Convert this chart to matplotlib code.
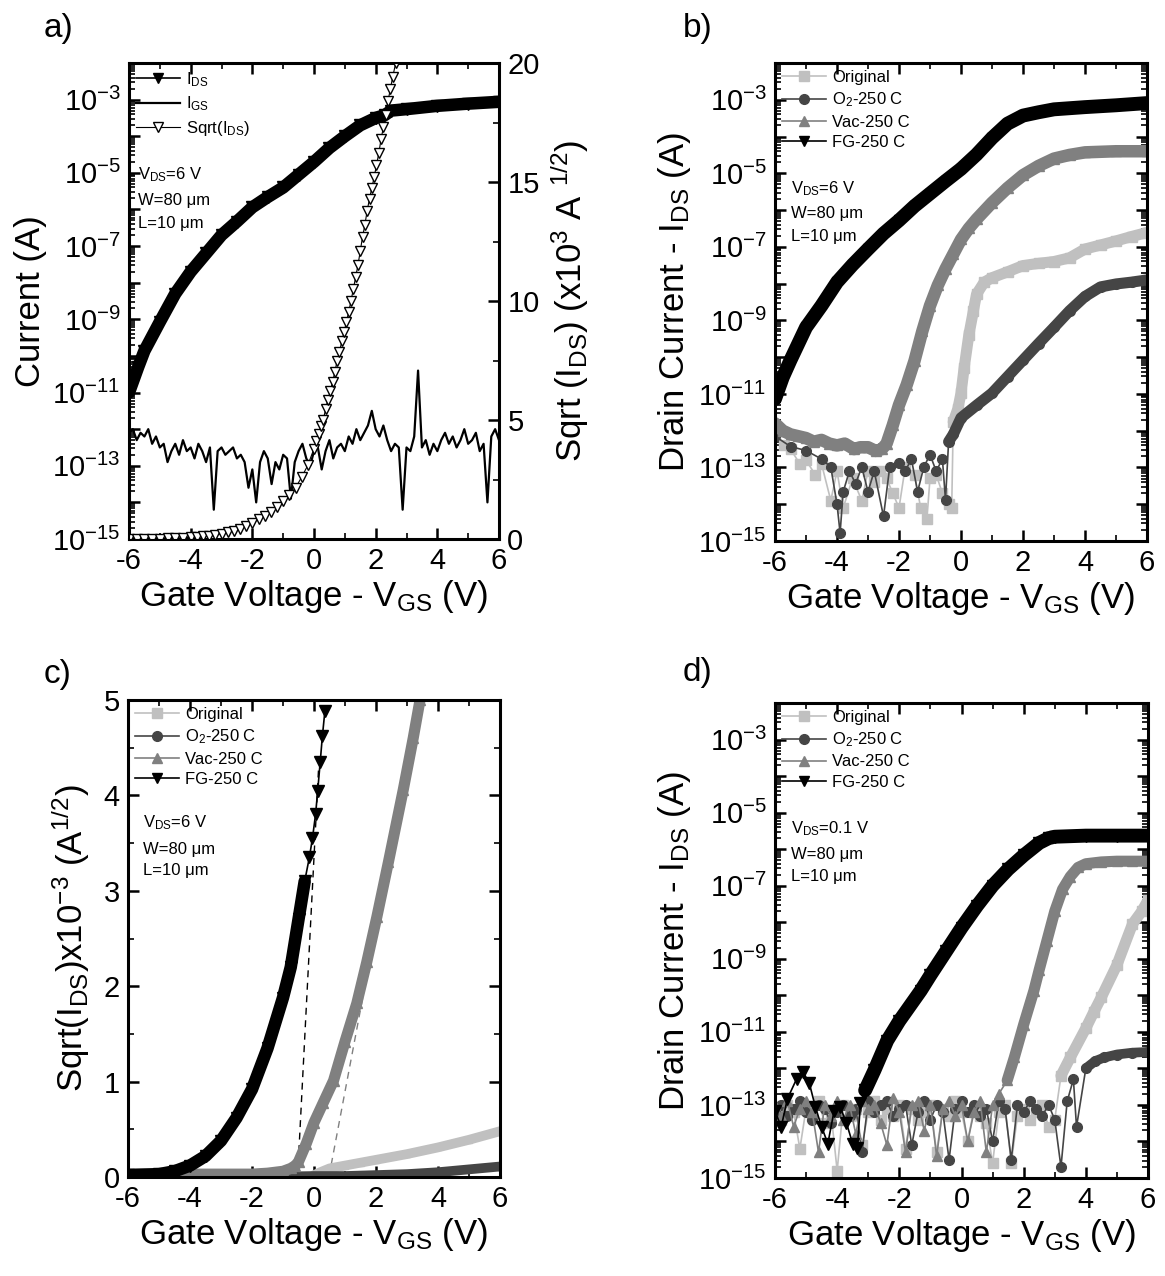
import numpy as np
import matplotlib
matplotlib.use('Agg')
import matplotlib.pyplot as plt
from matplotlib.lines import Line2D
from matplotlib.ticker import FixedLocator, FuncFormatter, LogLocator, NullFormatter, MultipleLocator

plt.rcParams['font.family'] = ['Liberation Sans', 'DejaVu Sans']
plt.rcParams['mathtext.fontset'] = 'custom'
plt.rcParams['mathtext.rm'] = 'Liberation Sans'
plt.rcParams['mathtext.it'] = 'Liberation Sans:italic'
plt.rcParams['mathtext.bf'] = 'Liberation Sans:bold'
plt.rcParams['axes.unicode_minus'] = False

# ---------------- panel a (log10 of current, sqrt in x10^3) ----------------
ids_a_x = [-6, -5.7, -5.5, -5, -4.5, -4, -3.5, -3, -2.5, -2, -1.5, -1, -0.5, 0, 0.5, 1, 1.5, 2, 2.3, 2.5, 3, 4, 5, 6]
ids_a_log = [-11.0, -10.3, -9.86, -9.07, -8.3, -7.7, -7.2, -6.7, -6.33, -5.94, -5.66, -5.4, -5.05, -4.7,
             -4.32, -4.0, -3.7, -3.5, -3.42, -3.3, -3.26, -3.17, -3.11, -3.06]

igs_a_log = [-12.1, -12.0, -12.3, -12.1, -12.2, -12.0, -12.4, -12.2, -12.5,
             -12.4, -12.9, -12.6, -12.4, -12.7, -12.3, -12.6, -12.5,
             -12.8, -12.4, -12.6, -12.9, -12.5, -14.2, -12.6, -12.5,
             -12.7, -12.6, -12.5, -12.8, -12.7, -12.9, -13.6, -13.1,
             -14.0, -12.9, -12.6, -12.8, -13.5, -12.9, -13.1, -12.7,
             -12.8, -13.9, -12.9, -12.6, -12.4, -12.8, -13.0, -12.6,
             -12.5, -13.1, -12.6, -12.3, -12.8, -12.5, -12.4, -12.6,
             -12.2, -12.4, -12.0, -12.3, -12.1, -11.9, -11.5, -12.0,
             -12.2, -11.9, -12.3, -12.6, -12.4, -12.5, -14.2, -12.5,
             -12.6, -12.2, -10.4, -12.5, -12.3, -12.7, -12.4, -12.6,
             -12.3, -12.1, -12.4, -12.2, -12.5, -12.3, -12.0, -12.4,
             -12.3, -12.1, -12.6, -12.4, -14.0, -12.2, -12.0, -12.3]
igs_a_x = np.linspace(-6, 6, len(igs_a_log))

sqrt_a_x = [-6, -5.75, -5.5, -5.25, -5, -4.75, -4.5, -4.25, -4, -3.8, -3.6, -3.4, -3.2, -3.0, -2.8, -2.6,
            -2.4, -2.2, -2.0, -1.8, -1.6, -1.4, -1.2, -1.0, -0.8, -0.6, -0.4, -0.2, 0, 0.075, 0.15, 0.225,
            0.3, 0.375, 0.45, 0.525, 0.6, 0.675, 0.75, 0.825, 0.9, 0.975, 1.05, 1.125, 1.2, 1.275, 1.35,
            1.425, 1.5, 1.575, 1.65, 1.725, 1.8, 1.875, 1.95, 2.025, 2.1, 2.175, 2.25, 2.325, 2.4, 2.475,
            2.55, 2.65]
sqrt_a_y = [0.0, 0.0, 0.01, 0.02, 0.02, 0.03, 0.04, 0.05, 0.07, 0.09, 0.11, 0.14, 0.18, 0.22, 0.28, 0.35,
            0.44, 0.55, 0.68, 0.82, 0.97, 1.15, 1.35, 1.6, 1.85, 2.15, 2.6, 3.1, 3.8, 4.1, 4.4, 4.75,
            5.0, 5.45, 5.85, 6.2, 6.6, 7.0, 7.5, 7.85, 8.3, 8.7, 9.1, 9.55, 10.0, 10.5, 11.0,
            11.5, 12.1, 12.7, 13.2, 13.8, 14.3, 14.75, 15.2, 15.7, 16.2, 16.8, 17.3, 17.8, 18.4, 18.9,
            19.4, 20.0]

# ---------------- panel b (log10 of I_DS, V_DS = 6 V) ----------------
fg_b_x = [-6, -5.75, -5.5, -5, -4.5, -4, -3.5, -3, -2.5, -2, -1.5, -1, -0.5, 0, 0.5, 1, 1.5, 2, 2.5, 3, 4, 5, 6]
fg_b_log = [-11.14, -10.55, -10.08, -9.19, -8.6, -7.96, -7.49, -7.06, -6.64, -6.28, -5.89, -5.55, -5.21, -4.88,
            -4.49, -4.04, -3.65, -3.43, -3.34, -3.26, -3.2, -3.15, -3.09]

vac_b_x = [-6, -5.75, -5.5, -5.25, -5, -4.75, -4.5, -4.25, -4, -3.75, -3.45, -3.25, -3, -2.75, -2.55, -2.4,
           -2.2, -2, -1.75, -1.5, -1.25, -1, -0.75, -0.5, -0.25, 0, 0.25, 0.5, 1, 1.5, 2, 2.5, 3, 3.5, 4, 5, 6]
vac_b_log = [-11.8, -12.0, -12.1, -12.15, -12.2, -12.3, -12.25, -12.35, -12.4, -12.35, -12.5, -12.45, -12.45,
             -12.55, -12.5, -12.35, -11.85, -11.3, -10.75, -10.1, -9.3, -8.6, -8.05, -7.6, -7.2, -6.8, -6.5,
             -6.25, -5.8, -5.4, -5.05, -4.8, -4.6, -4.5, -4.43, -4.4, -4.4]

orig_b_x = [-6, -5.7, -5.5, -5.2, -5, -4.7, -4.5, -4.2, -4, -3.8, -3.5, -3.2, -3, -2.8, -2.6, -2.4, -2.2, -2,
            -1.8, -1.5, -1.3, -1.1, -1, -0.8, -0.6, -0.4, -0.3, -0.25, -0.1, 0, 0.1, 0.25, 0.4, 0.5, 0.75, 1,
            1.5, 2, 2.5, 3, 3.5, 4, 4.5, 5, 5.5, 6]
orig_b_log = [-12.1, -12.4, -12.5, -12.9, -12.8, -13.2, -12.9, -13.9, -13.1, -14.1, -13.3, -13.9, -13.1, -13.4,
              -13.1, -13.3, -13.7, -14.1, -13.0, -13.2, -14.1, -14.4, -13.3, -13.2, -13.7, -14.0, -14.1, -11.76,
              -11.4, -10.98, -10.3, -9.41, -8.74, -8.29, -7.96, -7.84, -7.68, -7.51, -7.45, -7.4, -7.3, -7.06,
              -6.95, -6.84, -6.72, -6.61]

o2_b_x = [-6, -5.5, -5, -4.5, -4.2, -4, -3.9, -3.8, -3.6, -3.4, -3.2, -3, -2.8, -2.5, -2.3, -2, -1.8, -1.6,
          -1.4, -1.2, -1, -0.8, -0.6, -0.5, -0.4, -0.25, 0, 0.5, 1, 1.5, 2, 2.5, 3, 3.5, 4, 4.5, 5, 5.5, 6]
o2_b_log = [-12.15, -12.43, -12.54, -12.77, -12.99, -14.0, -14.78, -13.66, -13.1, -13.44, -12.99, -13.66, -13.1,
            -14.33, -12.99, -12.88, -13.1, -12.77, -13.66, -12.99, -12.65, -13.1, -12.77, -13.88, -12.3, -12.1,
            -11.65, -11.31, -10.98, -10.53, -10.08, -9.63, -9.19, -8.74, -8.35, -8.09, -8.01, -7.96, -7.9]

# ---------------- panel c (sqrt(I_DS) x10^-3) ----------------
fg_c_x = [-6, -5, -4.5, -4, -3.5, -3, -2.5, -2, -1.5, -1, -0.75, -0.5, -0.3, -0.15, -0.05, 0.05, 0.12,
          0.2, 0.27, 0.35]
fg_c_y = [0.02, 0.03, 0.06, 0.12, 0.22, 0.38, 0.62, 0.92, 1.35, 1.88, 2.2, 2.7, 3.1, 3.35, 3.55, 3.8, 4.05,
          4.35, 4.62, 4.88]
vac_c_x = [-6, -5, -4, -3, -2, -1.5, -1, -0.75, -0.6, -0.5, -0.25, 0, 0.3, 0.63, 1.0, 1.38, 1.7, 2.03, 2.4,
           2.88, 3.2, 3.42]
vac_c_y = [0.03, 0.03, 0.03, 0.03, 0.03, 0.04, 0.06, 0.09, 0.12, 0.16, 0.35, 0.57, 0.78, 1.01, 1.42, 1.82,
           2.25, 2.73, 3.3, 4.06, 4.6, 5.0]
orig_c_x = [-6, -4, -2, -1, 0, 0.2, 0.5, 1, 1.5, 2, 3, 4, 5, 6]
orig_c_y = [0.05, 0.04, 0.03, 0.02, 0.02, 0.05, 0.09, 0.12, 0.15, 0.18, 0.24, 0.31, 0.39, 0.48]
o2_c_x = [-6, -2, 0, 1, 2, 3, 4, 5, 6]
o2_c_y = [0.0, 0.0, 0.01, 0.01, 0.02, 0.03, 0.05, 0.08, 0.11]
fit_fg_x = [-0.53, 0.15]
fit_fg_y = [0.0, 4.3]
fit_vac_x = [0.48, 1.7]
fit_vac_y = [0.0, 2.1]

# ---------------- panel d (log10 of I_DS, V_DS = 0.1 V) ----------------
fg_d_x = [-6, -5.8, -5.6, -5.3, -5.1, -4.9, -4.7, -4.5, -4.3, -4.1, -3.9, -3.7, -3.5, -3.35, -3.25, -3.1,
          -2.8, -2.39, -2, -1.31, -1, -0.5, 0, 0.5, 1, 1.5, 2, 2.5, 2.8, 3, 4, 5, 6]
fg_d_log = [-13.17, -13.6, -12.83, -12.28, -12.1, -12.39, -13.06, -13.6, -14.06, -13.17, -13.06, -13.5, -14.06,
            -14.17, -12.94, -12.6, -12.05, -11.24, -10.7, -9.87, -9.45, -8.8, -8.15, -7.55, -7.0, -6.55, -6.17,
            -5.83, -5.7, -5.66, -5.63, -5.63, -5.63]

vac_d_noise_log = [-13.0, -13.3, -12.9, -13.6, -13.1, -12.9, -13.2, -14.3, -13.0, -13.3,
                   -12.9, -13.4, -13.0, -13.8, -12.9, -13.1, -13.0, -13.5, -14.1, -12.8,
                   -13.2, -14.3, -13.0, -12.9, -13.7, -13.0, -14.4, -13.1, -12.9, -13.3,
                   -13.0, -14.0, -13.2, -12.9, -14.3, -13.0, -12.7]
vac_d_rise_x = [1.47, 1.7, 2.0, 2.33, 2.5, 2.75, 3.0, 3.25, 3.5, 3.75, 4.0, 4.5, 5.0, 5.5, 6.0]
vac_d_rise_log = [-12.33, -11.7, -10.8, -9.87, -9.3, -8.5, -7.7, -7.1, -6.75, -6.5, -6.4, -6.35, -6.33, -6.33,
                  -6.33]

orig_d_noise_log = [-13.1, -13.4, -13.0, -13.2, -14.2, -13.1, -13.3, -12.9, -13.5, -13.2,
                    -14.8, -13.0, -13.3, -13.1, -14.1, -13.2, -12.9, -13.4, -13.1, -13.3,
                    -13.0, -14.2, -13.1, -13.4, -13.2, -13.0, -14.3, -13.1, -13.3, -12.9,
                    -13.2, -14.0, -13.1, -13.3, -13.5, -14.6, -13.2, -13.0, -14.6, -13.3,
                    -13.1, -13.4, -13.2, -13.0, -13.6, -13.4]
orig_d_rise_x = [3.2, 3.5, 4.0, 4.26, 4.5, 5.0, 5.5, 5.8, 6.0]
orig_d_rise_log = [-12.2, -11.7, -10.9, -10.45, -10.05, -9.17, -8.05, -7.7, -7.4]

o2_d_noise_log = [-13.2, -13.0, -13.3, -13.1, -12.9, -13.2, -13.4, -13.0, -13.1, -13.5,
                  -13.2, -13.0, -13.3, -13.1, -14.3, -12.9, -13.2, -13.0, -12.9, -13.3,
                  -13.1, -13.0, -14.1, -13.2, -12.9, -13.4, -13.0, -13.2, -14.5, -13.1,
                  -12.9, -13.2, -13.0, -13.3, -13.1, -14.0, -12.9, -13.1, -14.5, -13.0,
                  -13.2, -12.9, -13.1, -13.3, -13.0, -13.4, -14.7, -12.9]
o2_d_rise_x = [3.6, 3.7, 4.0, 4.3, 4.6, 5.0, 5.5, 6.0]
o2_d_rise_log = [-12.3, -13.6, -12.0, -11.8, -11.7, -11.62, -11.57, -11.55]

c_orig, c_o2, c_vac, c_fg = '#c0c0c0', '#454545', '#808080', 'black'
names = ['Original', r'O$_2$-250 C', 'Vac-250 C', 'FG-250 C']
markers = ['s', 'o', '^', 'v']
colors = [c_orig, c_o2, c_vac, c_fg]

W, H = 1165, 1276
fig = plt.figure(figsize=(W / 100, H / 100), dpi=100)


def box(l, t, r, b):
    return [l / W, 1 - b / H, (r - l) / W, (b - t) / H]


def curve(ax, x, y, color, marker, ms, band, lo=-99, hi=99, logy=True):
    x = np.asarray(x, float)
    y = np.asarray(y, float)
    if logy:
        y = 10.0 ** y
    ax.plot(x, y, color=color, lw=1.2, marker=marker, ms=ms, mec=color, mfc=color)
    m = (x >= lo) & (x <= hi)
    if band:
        ax.plot(x[m], y[m], color=color, lw=band, solid_capstyle='round', solid_joinstyle='round')


def style(ax, logy=True):
    for s in ax.spines.values():
        s.set_linewidth(2.2)
    ax.set_xlim(-6, 6)
    ax.xaxis.set_major_locator(MultipleLocator(2))
    ax.xaxis.set_minor_locator(MultipleLocator(1))
    if logy:
        ax.set_yscale('log')
        ax.set_ylim(1e-15, 1e-2)
        ax.yaxis.set_major_locator(FixedLocator(10.0 ** np.arange(-15, -1)))
        ax.yaxis.set_major_formatter(FuncFormatter(
            lambda v, p: r'$10^{%d}$' % round(np.log10(v)) if round(np.log10(v)) % 2 else ''))
        ax.yaxis.set_minor_locator(LogLocator(base=10, subs=np.arange(2, 10), numticks=200))
        ax.yaxis.set_minor_formatter(NullFormatter())
    ax.tick_params(which='both', direction='in', top=True, right=True, labelsize=21)
    ax.tick_params(which='major', length=8, width=1.8, pad=6)
    ax.tick_params(which='minor', length=4, width=1.2)
    ax.set_xlabel(r'Gate Voltage - V$_{\mathrm{GS}}$ (V)', fontsize=25, labelpad=2)


def conds(ax, x, ys, vds):
    ax.text(x, ys[0], r'V$_{\mathrm{DS}}$=' + vds, transform=ax.transAxes, fontsize=12, va='center')
    ax.text(x, ys[1], 'W=80 μm', transform=ax.transAxes, fontsize=12, va='center')
    ax.text(x, ys[2], 'L=10 μm', transform=ax.transAxes, fontsize=12, va='center')


def legend4(ax):
    hs = [Line2D([], [], color=c, marker=mk, ms=7, lw=1.2, mec=c, mfc=c) for c, mk in zip(colors, markers)]
    ax.legend(hs, names, loc='upper left', bbox_to_anchor=(0.02, 0.985), frameon=False, fontsize=12,
              handlelength=2.6, handletextpad=0.4, labelspacing=0.32, borderaxespad=0, borderpad=0)


# ---- a ----
ax = fig.add_axes(box(129, 63, 499, 539))
style(ax)
ax.tick_params(right=False)
ax.plot(igs_a_x, 10.0 ** np.asarray(igs_a_log), color='black', lw=1.6)
curve(ax, ids_a_x, ids_a_log, 'black', 'v', 8, 9)
ax.set_ylabel('Current (A)', fontsize=25, labelpad=4)
ax2 = ax.twinx()
ax2.set_ylim(0, 20)
ax2.yaxis.set_major_locator(MultipleLocator(5))
ax2.yaxis.set_minor_locator(MultipleLocator(2.5))
ax2.tick_params(which='both', direction='in', labelsize=21)
ax2.tick_params(which='major', length=8, width=1.8, pad=6)
ax2.tick_params(which='minor', length=4, width=1.2)
ax2.plot(sqrt_a_x, sqrt_a_y, color='black', lw=0.8, marker='v', ms=7, mfc='white', mec='black', mew=1.0)
ax2.set_ylabel(r'Sqrt (I$_{\mathrm{DS}}$) (x10$^{3}$ A $^{1/2}$)', fontsize=25, labelpad=6)
hs = [Line2D([], [], color='black', marker='v', ms=7, lw=1.2),
      Line2D([], [], color='black', lw=1.6),
      Line2D([], [], color='black', marker='v', ms=7, lw=0.8, mfc='white')]
ax.legend(hs, [r'I$_{\mathrm{DS}}$', r'I$_{\mathrm{GS}}$', r'Sqrt(I$_{\mathrm{DS}}$)'], loc='upper left',
          bbox_to_anchor=(0.02, 0.985), frameon=False, fontsize=12, handlelength=2.6, handletextpad=0.4,
          labelspacing=0.35, borderaxespad=0, borderpad=0)
conds(ax, 0.024, [0.765, 0.712, 0.662], '6 V')

# ---- b ----
ax = fig.add_axes(box(775, 63, 1147, 541))
style(ax)
curve(ax, orig_b_x, orig_b_log, c_orig, 's', 7, 8, lo=-0.25)
curve(ax, o2_b_x, o2_b_log, c_o2, 'o', 7, 8, lo=-0.4)
curve(ax, vac_b_x, vac_b_log, c_vac, '^', 7, 9)
curve(ax, fg_b_x, fg_b_log, c_fg, 'v', 7, 10)
ax.set_ylabel(r'Drain Current - I$_{\mathrm{DS}}$ (A)', fontsize=25, labelpad=4)
legend4(ax)
conds(ax, 0.043, [0.737, 0.685, 0.637], '6 V')

# ---- c ----
ax = fig.add_axes(box(128, 700, 500, 1177))
style(ax, logy=False)
ax.set_ylim(0, 5)
ax.yaxis.set_major_locator(MultipleLocator(1))
ax.yaxis.set_minor_locator(MultipleLocator(0.5))
ax.plot(fit_fg_x, fit_fg_y, color='black', lw=1.0, ls=(0, (5, 4)))
ax.plot(fit_vac_x, fit_vac_y, color='#808080', lw=1.0, ls=(0, (5, 4)))
curve(ax, orig_c_x, orig_c_y, c_orig, 's', 5, 7, lo=0, logy=False)
curve(ax, o2_c_x, o2_c_y, c_o2, 'o', 5, 7, logy=False)
curve(ax, vac_c_x, vac_c_y, c_vac, '^', 7, 8, logy=False)
curve(ax, fg_c_x, fg_c_y, c_fg, 'v', 9, 9, hi=-0.3, logy=False)
ax.set_ylabel(r'Sqrt(I$_{\mathrm{DS}}$)x10$^{-3}$ (A$^{1/2}$)', fontsize=25, labelpad=8)
legend4(ax)
conds(ax, 0.041, [0.742, 0.686, 0.642], '6 V')

# ---- d ----
ax = fig.add_axes(box(775, 703, 1148, 1178))
style(ax)
orig_d_x = np.concatenate([np.linspace(-6, 3, len(orig_d_noise_log)), orig_d_rise_x])
o2_d_x = np.concatenate([np.linspace(-6, 3.4, len(o2_d_noise_log)), o2_d_rise_x])
vac_d_x = np.concatenate([np.linspace(-6, 1.2, len(vac_d_noise_log)), vac_d_rise_x])
curve(ax, orig_d_x, orig_d_noise_log + orig_d_rise_log, c_orig, 's', 7, 8, lo=3.2)
curve(ax, o2_d_x, o2_d_noise_log + o2_d_rise_log, c_o2, 'o', 7, 7, lo=3.95)
curve(ax, vac_d_x, vac_d_noise_log + vac_d_rise_log, c_vac, '^', 7, 8, lo=1.47)
curve(ax, fg_d_x, fg_d_log, c_fg, 'v', 9, 10, lo=-3.1)
ax.set_ylabel(r'Drain Current - I$_{\mathrm{DS}}$ (A)', fontsize=25, labelpad=4)
legend4(ax)
conds(ax, 0.043, [0.735, 0.681, 0.634], '0.1 V')

for s, x, y in [('a)', 44, 29), ('b)', 683, 29), ('c)', 44, 675), ('d)', 683, 673)]:
    fig.text(x / W, 1 - y / H, s, fontsize=24, va='center', ha='left')

fig.savefig('out.png', dpi=100)
